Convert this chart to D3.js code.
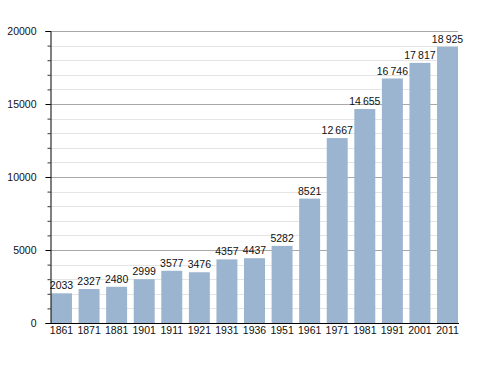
<!DOCTYPE html>
<html>
<head>
<meta charset="utf-8">
<script src="https://cdn.jsdelivr.net/npm/d3@7"></script>
<style>
  html, body { margin: 0; padding: 0; background: #fff; }
  svg text { font-family: "Liberation Sans", Arial, sans-serif; font-size: 10.5px; fill: #111; }
</style>
</head>
<body>
<svg id="chart" width="488" height="373"></svg>
<script>
// census years and population
const years  = ['1861', '1871', '1881', '1901', '1911', '1921', '1931', '1936', '1951', '1961', '1971', '1981', '1991', '2001', '2011'];
const values = [2033, 2327, 2480, 2999, 3577, 3476, 4357, 4437, 5282, 8521, 12667, 14655, 16746, 17817, 18925];
const majorTicks = [0, 5000, 10000, 15000, 20000];

const svg = d3.select('#chart');

const l = 50;
const r = 458;
const t = 31;
const b = 323;

const xScale = d3.scaleBand().domain(years).range([l + 1, r]).paddingInner(0.24).paddingOuter(0);
const yScale = d3.scaleLinear().domain([0, 20000]).range([b, t]);

// thousands separated by a space above 9999
const fmt = v => v >= 10000 ? d3.format(',')(v).replace(/,/g, '\u2009') : String(v);

// minor grid every 1000
const minor = d3.range(1000, 20000, 1000).filter(v => v % 5000 !== 0);
svg.append('g')
    .selectAll('line')
    .data(minor)
    .join('line')
    .attr('x1', l).attr('x2', r)
    .attr('y1', d => Math.round(yScale(d)) + 0.5)
    .attr('y2', d => Math.round(yScale(d)) + 0.5)
    .attr('stroke', '#e4e4e4');

svg.append('g')
    .selectAll('line')
    .data(majorTicks.filter(d => d > 0))
    .join('line')
    .attr('x1', l).attr('x2', r)
    .attr('y1', d => Math.round(yScale(d)) + 0.5)
    .attr('y2', d => Math.round(yScale(d)) + 0.5)
    .attr('stroke', '#a8a8a8');

// bars
svg.append('g')
    .selectAll('rect')
    .data(values)
    .join('rect')
    .attr('x', (d, i) => xScale(years[i]))
    .attr('width', xScale.bandwidth())
    .attr('y', d => yScale(d))
    .attr('height', d => b - yScale(d))
    .attr('fill', '#9bb4cf');

// value labels
svg.append('g')
    .selectAll('text')
    .data(values)
    .join('text')
    .attr('x', (d, i) => xScale(years[i]) + xScale.bandwidth() / 2)
    .attr('y', d => yScale(d) - 4)
    .attr('text-anchor', 'middle')
    .text(fmt);

// y axis: minor ticks
const yMinor = d3.axisLeft(yScale).tickValues(d3.range(0, 20001, 1000)).tickSize(3).tickFormat('');
svg.append('g')
    .attr('transform', `translate(${l + 0.5},0)`)
    .call(yMinor)
    .call(g => g.select('.domain').remove())
    .call(g => g.selectAll('line').attr('stroke', '#333'));

const yAxis = d3.axisLeft(yScale).tickValues(majorTicks).tickSize(5).tickPadding(9).tickFormat(d => d);
svg.append('g')
    .attr('transform', `translate(${l + 0.5},0)`)
    .call(yAxis)
    .call(g => g.select('.domain').attr('stroke', '#000'))
    .call(g => g.selectAll('text').style('font-size', '10.5px'));

// x axis
const xAxis = d3.axisBottom(xScale).tickSize(0).tickPadding(3);
svg.append('g')
    .attr('transform', `translate(0,${b + 0.5})`)
    .call(xAxis)
    .call(g => g.select('.domain').attr('d', `M${l},0H${r + 1}`).attr('stroke', '#000'))
    .call(g => g.selectAll('text').style('font-size', '10.5px'));
</script>
</body>
</html>
